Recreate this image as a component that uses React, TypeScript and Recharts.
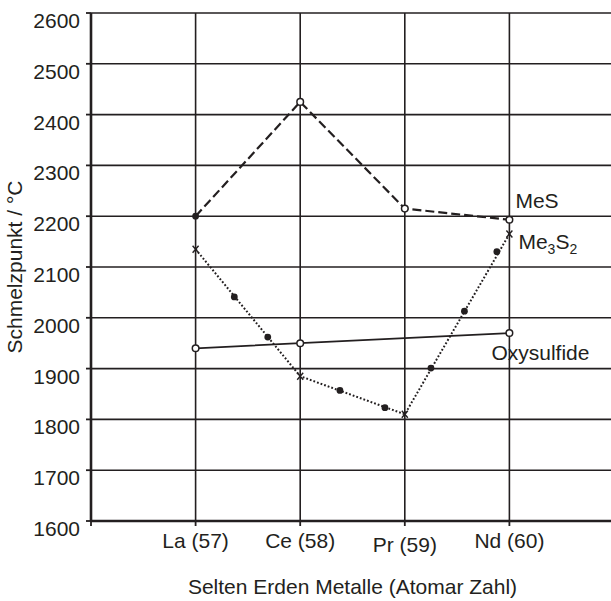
import React from "react";
import { ComposedChart, Line, Scatter, XAxis, YAxis, CartesianGrid, Label } from "recharts";

const elements = ["La", "Ce", "Pr", "Nd"];
const atomicNumbers = [57, 58, 59, 60];
const xTicks = [56, 57, 58, 59, 60];
const yTicks = [1600, 1700, 1800, 1900, 2000, 2100, 2200, 2300, 2400, 2500, 2600];

const mesValues = [2200, 2425, 2215, 2193];
const mesMarkers = ["filled", "open", "open", "open"];

const oxyX = [57, 58, 60];
const oxyValues = [1940, 1950, 1970];

const me3s2Values = [2135, 1885, 1810, 2165];
const me3s2DotX = [57.37, 57.69, 58.38, 58.81, 59.25, 59.57, 59.88];
const me3s2DotY = [2041, 1962, 1857, 1823, 1901, 2013, 2130];

const INK = "#231f20";
const FONT = "'Liberation Sans', Arial, sans-serif";

const mesData = atomicNumbers.map((x, i) => ({ x, y: mesValues[i], mark: mesMarkers[i] }));
const oxyData = oxyX.map((x, i) => ({ x, y: oxyValues[i] }));
const me3s2Data = atomicNumbers.map((x, i) => ({ x, y: me3s2Values[i] }));
const me3s2Dots = me3s2DotX.map((x, i) => ({ x, y: me3s2DotY[i] }));

const openCircle = (cx: number, cy: number) => (
  <circle cx={cx} cy={cy} r={3.3} fill="#fff" stroke={INK} strokeWidth={1.5} />
);
const filledCircle = (cx: number, cy: number) => <circle cx={cx} cy={cy} r={3.4} fill={INK} />;
const cross = (cx: number, cy: number) => (
  <path d={`M${cx - 3},${cy - 3.5}L${cx + 3},${cy + 3.5}M${cx + 3},${cy - 3.5}L${cx - 3},${cy + 3.5}`} stroke={INK} strokeWidth={1.4} />
);

const seriesText = { fontFamily: FONT, fontSize: 21, fill: INK };

function MesDot(props: any) {
  const { cx, cy, index } = props;
  if (cx == null || cy == null) return <g key={index} />;
  const last = index === mesData.length - 1;
  return (
    <g key={index}>
      {mesData[index].mark === "filled" ? filledCircle(cx, cy) : openCircle(cx, cy)}
      {last && (
        <text x={cx + 6} y={cy - 12} {...seriesText}>MeS</text>
      )}
    </g>
  );
}

function OxyDot(props: any) {
  const { cx, cy, index } = props;
  if (cx == null || cy == null) return <g key={index} />;
  const last = index === oxyData.length - 1;
  return (
    <g key={index}>
      {openCircle(cx, cy)}
      {last && (
        <text x={cx - 18} y={cy + 27} {...seriesText}>Oxysulfide</text>
      )}
    </g>
  );
}

function Me3S2Dot(props: any) {
  const { cx, cy, index } = props;
  if (cx == null || cy == null) return <g key={index} />;
  const last = index === me3s2Data.length - 1;
  return (
    <g key={index}>
      {cross(cx, cy)}
      {last && (
        <text x={cx + 9} y={cy + 15} {...seriesText}>
          Me<tspan fontSize={14} dy={5}>3</tspan>
          <tspan dy={-5}>S</tspan>
          <tspan fontSize={14} dy={5}>2</tspan>
        </text>
      )}
    </g>
  );
}

function XTick(props: any) {
  const { x, y, payload } = props;
  const i = atomicNumbers.indexOf(payload.value);
  if (i < 0) return <g />;
  return (
    <text x={x} y={y + (payload.value === 59 ? 4 : 0)} dy="0.71em" textAnchor="middle" {...seriesText}>
      {`${elements[i]} (${payload.value})`}
    </text>
  );
}

function YTick(props: any) {
  const { x, y, payload } = props;
  return (
    <text x={x} y={y} dy="0.71em" textAnchor="end" {...seriesText}>
      {payload.value}
    </text>
  );
}

export default function App() {
  return (
    <div style={{ position: "absolute", left: 0, top: 0, width: 611, height: 601, overflow: "hidden", background: "#fff" }}>
      <ComposedChart width={630} height={601} margin={{ top: 13, right: 16, left: 0, bottom: 0 }}>
        <CartesianGrid stroke={INK} strokeWidth={1.6} horizontalValues={yTicks} verticalValues={xTicks} />
        <XAxis
          type="number"
          dataKey="x"
          domain={[56, 61]}
          ticks={xTicks}
          allowDataOverflow
          height={80}
          axisLine={{ stroke: INK, strokeWidth: 2.6 }}
          tickLine={{ stroke: INK, strokeWidth: 1.8 }}
          tickSize={5}
          tickMargin={7}
          tick={<XTick />}
        >
          <Label
            content={(p: any) => {
              const vb = p.viewBox;
              return (
                <text x={vb.x + vb.width / 2} y={594} textAnchor="middle" {...seriesText}>
                  Selten Erden Metalle (Atomar Zahl)
                </text>
              );
            }}
          />
        </XAxis>
        <YAxis
          type="number"
          domain={[1600, 2600]}
          ticks={yTicks}
          width={91}
          axisLine={{ stroke: INK, strokeWidth: 2.6 }}
          tickLine={{ stroke: INK, strokeWidth: 1.8 }}
          tickSize={5}
          tickMargin={6}
          tick={<YTick />}
        >
          <Label
            content={(p: any) => {
              const vb = p.viewBox;
              const cx = vb.x + 21.5;
              const cy = vb.y + vb.height / 2;
              return (
                <text x={0} y={0} transform={`translate(${cx},${cy}) rotate(-90)`} textAnchor="middle" {...seriesText}>
                  Schmelzpunkt / °C
                </text>
              );
            }}
          />
        </YAxis>
        <Line
          data={oxyData}
          dataKey="y"
          stroke={INK}
          strokeWidth={1.8}
          dot={<OxyDot />}
          activeDot={false}
          isAnimationActive={false}
        />
        <Line
          data={me3s2Data}
          dataKey="y"
          stroke={INK}
          strokeWidth={2}
          strokeDasharray="1.8 2"
          dot={<Me3S2Dot />}
          activeDot={false}
          isAnimationActive={false}
        />
        <Scatter
          data={me3s2Dots}
          dataKey="y"
          fill={INK}
          shape={(p: any) => filledCircle(p.cx, p.cy)}
          isAnimationActive={false}
        />
        <Line
          data={mesData}
          dataKey="y"
          stroke={INK}
          strokeWidth={2.2}
          strokeDasharray="9 4"
          dot={<MesDot />}
          activeDot={false}
          isAnimationActive={false}
        />
      </ComposedChart>
    </div>
  );
}
